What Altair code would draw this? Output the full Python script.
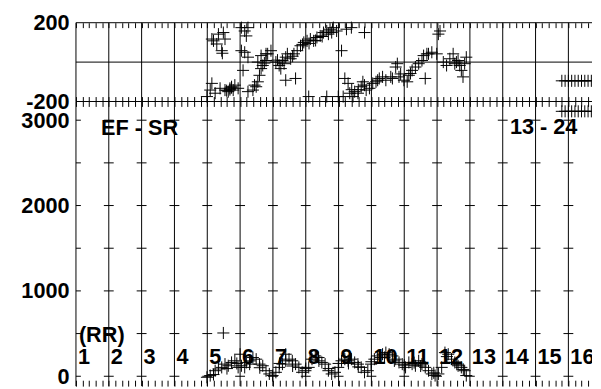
import altair as alt
import pandas as pd

FONT = "Liberation Sans"

# ---------------- data ----------------
# upper panel (-200 .. 200)
top_x = [4.19, 4.34, 4.49, 4.14, 4.29, 4.44, 4.54, 4.46,
         4.14, 4.09, 3.99, 4.24, 4.39, 4.54, 4.69, 4.74, 4.84, 4.79, 4.64, 4.94, 4.59, 4.69, 4.74,
         5.14, 5.19, 5.04, 5.24, 5.14, 5.24, 5.04,
         5.09, 5.44, 5.39, 5.24, 5.54, 5.59, 5.64, 5.69, 5.54, 5.79, 5.84, 5.94, 5.79, 5.64, 5.74, 5.49,
         6.19, 6.29, 6.39, 6.44, 6.34, 6.24, 6.09, 6.14,
         6.54, 6.64, 6.74, 6.84, 6.94, 7.04, 7.14, 7.24, 7.34, 7.44, 7.54, 7.64, 7.74, 7.84, 7.79, 7.69,
         7.94, 8.24, 8.39, 8.79, 8.09, 6.69, 6.39, 7.09, 7.64, 6.60, 6.90, 7.10, 7.30, 7.50,
         8.19, 8.29, 8.14, 8.34, 8.49, 8.59, 8.69, 8.79, 8.74, 8.84, 8.94, 9.04, 9.14, 9.24, 9.34,
         8.44, 7.99, 8.40, 8.60,
         9.44, 9.64, 9.74, 9.79, 9.84, 9.99, 10.09, 10.14, 10.24, 10.34, 10.44, 10.54, 10.64, 10.69,
         10.84, 10.99, 11.09, 11.04, 11.19, 11.29, 11.39, 11.49, 11.54, 11.64, 11.74, 11.79, 11.84,
         11.89, 11.69, 11.59, 10.74, 10.59, 9.89, 10.19, 9.59, 9.19]
top_v = [108, 142, 150, 117, 92, 58, 117, 45,
         -108, -142, -175, -158, -133, -142, -133, -125, -117, -142, -150, -133, -145, -140, -130,
         158, 133, 175, 175, 50, 25, 58,
         -42, -117, -142, -150, -100, -67, -33, -17, 0, 8, 42, 58, 42, 33, -5, -125,
         -17, 8, 25, 42, -8, -33, 0, 10,
         17, 42, 58, 83, 100, 108, 117, 108, 125, 133, 150, 158, 167, 175, 150, 142,
         158, 167, 175, 150, 58, -83, -92, -175, -175, 30, 90, 95, 110, 130,
         -83, -108, -175, -158, -150, -158, -125, -117, -100, -142, -133, -108, -100, -83, -75,
         -175, -175, -140, -140,
         -92, -83, -25, -8, -75, -92, -100, -67, -42, -25, -8, 8, -83, 42,
         50, 42, 158, 142, 0, -17, 17, 42, -8, 8, -42, -75, -8,
         25, -17, 0, 42, 33, -60, -58, -75, -92]

# lower panel (0 .. 3000)
bot_x = [3.99, 4.09, 4.19, 4.24, 4.34, 4.44, 4.49, 4.54, 4.64, 4.74, 4.84, 4.94, 5.04, 5.14,
         5.19, 5.29, 5.39, 5.49, 5.59, 5.69, 5.79, 5.89, 5.99, 6.09, 6.19, 6.29, 6.39, 6.49,
         5.00, 6.39, 6.59, 6.69, 6.79, 6.89, 6.99, 7.09, 7.19, 7.29, 7.39, 7.49, 7.59, 7.69,
         7.79, 7.89, 7.99, 8.09, 8.19, 8.29, 8.39, 8.49, 8.59, 8.69, 8.79, 8.89, 8.99, 9.09,
         9.19, 9.29, 9.34, 9.44, 9.54, 9.64, 9.74, 9.84, 9.94, 10.04, 10.14, 10.24, 10.34, 10.44,
         10.54, 10.64, 10.74, 10.84, 10.94, 11.04, 11.14, 11.24, 11.34, 11.44, 11.54, 11.64,
         11.74, 11.84, 11.89,
         4.60, 4.90, 5.30, 5.60, 6.20, 6.60, 7.00, 7.40, 7.70, 8.00, 8.30, 8.60, 9.00, 9.40,
         9.70, 10.00, 10.30, 10.50, 10.90, 11.30, 11.60, 11.80]
bot_v = [-12, 8, 20, 65, 85, 104, 507, 142, 123, 162, 181, 104, 123, 104,
         162, 142, 219, 200, 142, 123, 65, 27, 8, 46, 104, 142, 181, 200,
         258, 258, 181, 142, 104, 46, 65, 104, 200, 238, 219, 162, 142, 65,
         27, 46, 104, 181, 200, 181, 200, 162, 142, 104, 46, 65, 142, 200,
         238, 219, 258, 277, 258, 238, 200, 162, 142, 104, 162, 142, 123, 181,
         142, 104, 65, 27, 8, 27, 104, 277, 258, 200, 162, 123,
         104, 65, 8,
         90, 150, 180, 100, 150, 120, 90, 180, 90, 150, 150, 110, 170, 220,
         180, 130, 160, 120, 40, 230, 140, 80]

# short constant runs at the right edge
tail_x = [14.8, 14.9, 15.0, 15.1, 15.2, 15.3, 15.4, 15.5, 15.6, 15.7]
tail_top_v = [-95, -95, -95, -95, -95, -95, -95, -95, -95, -95]
tail_bot_v = [3104, 3104, 3104, 3104, 3104, 3104, 3104, 3104, 3104, 3104]

grid_lines = [0, 1, 2, 3, 4, 5, 6, 7, 8, 9, 10, 11, 12, 13, 14, 15]
top_hlines = [-200, 0, 200]
tick_levels = [0, 500, 1000, 1500, 2000, 2500, 3000]
hour_labels = ["1", "2", "3", "4", "5", "6", "7", "8", "9", "10", "11", "12", "13", "14", "15", "16"]
hour_pos = [0, 1, 2, 3, 4, 5, 6, 7, 8, 9, 10, 11, 12, 13, 14, 15]
notes = ["EF - SR", "13 - 24", "(RR)"]
notes_x = [0.675, 13.13, 0.0]
notes_y = [2823, 2835, 400]

# ---------------- layout constants ----------------
XMAX = 15.72
W = 524
H_TOP = 80
H_BOT = 289
YB = [-115.6, 3219]
minor = [round(i * 0.2, 2) for i in range(79)]

xs = alt.Scale(domain=[0, XMAX], nice=False, zero=False)
ys_top = alt.Scale(domain=[-200, 200], nice=False, zero=False)
ys_bot = alt.Scale(domain=YB, nice=False, zero=False)


def edge_axis(orient, off):
    return alt.Axis(orient=orient, offset=-off, tickSize=off, values=minor, labels=False,
                    domain=False, grid=False, title=None, tickColor="black", tickWidth=1)


def left_axis(vals):
    return alt.Axis(orient="left", values=vals, ticks=False, tickSize=0, domain=False,
                    grid=False, title=None, labelFont=FONT, labelFontSize=22,
                    labelFontWeight="bold", labelColor="black", labelPadding=7,
                    labelOverlap=False, labelExpr="'' + datum.value")


cross = "M-1,0L1,0M0,-1L0,1"

# ---------- top panel ----------
df_grid = pd.DataFrame({"x": grid_lines})
df_top = pd.DataFrame({"x": top_x, "v": top_v})
df_tail_top = pd.DataFrame({"x": tail_x, "v": tail_top_v})
df_hl = pd.DataFrame({"v": top_hlines})

t_grid = alt.Chart(df_grid).mark_rule(color="black", strokeWidth=1).encode(
    x=alt.X("x:Q", scale=xs, axis=edge_axis("top", 5)))
t_hl = alt.Chart(df_hl).mark_rule(color="black", strokeWidth=1).encode(
    y=alt.Y("v:Q", scale=ys_top, axis=left_axis([-200, 200])))
t_pts = alt.Chart(df_top).mark_point(shape=cross, size=150, filled=False, color="black",
                                     strokeWidth=1, opacity=1).encode(
    x=alt.X("x:Q", scale=xs, axis=edge_axis("bottom", 5)),
    y=alt.Y("v:Q", scale=ys_top, axis=None))
t_tail = alt.Chart(df_tail_top).mark_point(shape=cross, size=150, filled=False, color="black",
                                           strokeWidth=1, opacity=1, clip=True).encode(
    x=alt.X("x:Q", scale=xs, axis=None),
    y=alt.Y("v:Q", scale=ys_top, axis=None))

top = alt.layer(t_grid, t_hl, t_pts, t_tail).resolve_axis(
    x="independent", y="independent").properties(width=W, height=H_TOP)

# ---------- bottom panel ----------
seg_rows = []
for k in grid_lines:
    for lv in tick_levels:
        seg_rows.append({"x0": max(k - 0.15, 0), "x1": k + 0.15, "v": lv})
df_seg = pd.DataFrame(seg_rows)
df_bot = pd.DataFrame({"x": bot_x, "v": bot_v})
df_tail_bot = pd.DataFrame({"x": tail_x, "v": tail_bot_v})
df_lab = pd.DataFrame({"x": hour_pos, "t": hour_labels, "v": [140] * len(hour_pos)})
df_notes = pd.DataFrame({"x": notes_x, "v": notes_y, "t": notes})

b_grid = alt.Chart(df_grid).mark_rule(color="black", strokeWidth=1).encode(
    x=alt.X("x:Q", scale=xs, axis=edge_axis("top", 5)))
b_seg = alt.Chart(df_seg).mark_rule(color="black", strokeWidth=1).encode(
    x=alt.X("x0:Q", scale=xs, axis=None), x2="x1:Q",
    y=alt.Y("v:Q", scale=ys_bot, axis=left_axis([0, 1000, 2000, 3000])))
b_pts = alt.Chart(df_bot).mark_point(shape=cross, size=150, filled=False, color="black",
                                     strokeWidth=1, opacity=1).encode(
    x=alt.X("x:Q", scale=xs, axis=edge_axis("bottom", 6)),
    y=alt.Y("v:Q", scale=ys_bot, axis=None))
b_tail = alt.Chart(df_tail_bot).mark_point(shape=cross, size=150, filled=False, color="black",
                                           strokeWidth=1, opacity=1, clip=True).encode(
    x=alt.X("x:Q", scale=xs, axis=None),
    y=alt.Y("v:Q", scale=ys_bot, axis=None))
b_lab = alt.Chart(df_lab).mark_text(font=FONT, fontSize=22, fontWeight="bold", color="black",
                                    align="left", baseline="alphabetic", dx=2, clip=True).encode(
    x=alt.X("x:Q", scale=xs, axis=None),
    y=alt.Y("v:Q", scale=ys_bot, axis=None),
    text="t:N")
b_notes = alt.Chart(df_notes).mark_text(font=FONT, fontSize=22, fontWeight="bold", color="black",
                                        align="left", baseline="alphabetic", dx=3).encode(
    x=alt.X("x:Q", scale=xs, axis=None),
    y=alt.Y("v:Q", scale=ys_bot, axis=None),
    text="t:N")

bottom = alt.layer(b_grid, b_seg, b_pts, b_tail, b_lab, b_notes).resolve_axis(
    x="independent", y="independent").properties(width=W, height=H_BOT)

chart = alt.vconcat(top, bottom, spacing=0, bounds="flush").configure_view(
    stroke=None).properties(padding={"left": 13, "top": 1, "right": 0, "bottom": 0},
                            background="white")

chart.save("out.html", embed_options={"renderer": "svg", "actions": False})
